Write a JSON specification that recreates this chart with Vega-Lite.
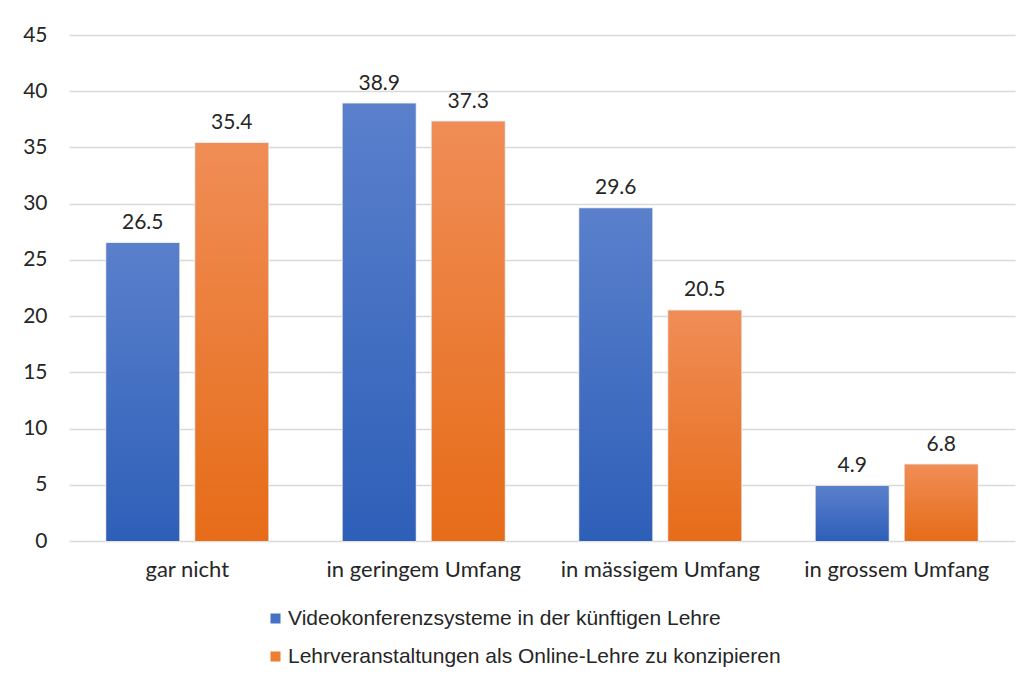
{
  "$schema": "https://vega.github.io/schema/vega-lite/v6.json",
  "autosize": {"type": "none"},
  "width": 946,
  "height": 506,
  "padding": {"left": 69, "top": 35, "right": 16, "bottom": 141},
  "background": "white",
  "config": {
    "view": {"stroke": null},
    "font": "Lato"
  },
  "data": {
    "values": [
      {"cat": "gar nicht", "series": "Videokonferenzsysteme in der künftigen Lehre", "value": 26.5},
      {"cat": "gar nicht", "series": "Lehrveranstaltungen als Online-Lehre zu konzipieren", "value": 35.4},
      {"cat": "in geringem Umfang", "series": "Videokonferenzsysteme in der künftigen Lehre", "value": 38.9},
      {"cat": "in geringem Umfang", "series": "Lehrveranstaltungen als Online-Lehre zu konzipieren", "value": 37.3},
      {"cat": "in mässigem Umfang", "series": "Videokonferenzsysteme in der künftigen Lehre", "value": 29.6},
      {"cat": "in mässigem Umfang", "series": "Lehrveranstaltungen als Online-Lehre zu konzipieren", "value": 20.5},
      {"cat": "in grossem Umfang", "series": "Videokonferenzsysteme in der künftigen Lehre", "value": 4.9},
      {"cat": "in grossem Umfang", "series": "Lehrveranstaltungen als Online-Lehre zu konzipieren", "value": 6.8}
    ]
  },
  "encoding": {
    "x": {
      "field": "cat", "type": "nominal", "sort": null,
      "scale": {"paddingInner": 0.315, "paddingOuter": 0.1575},
      "axis": {
        "title": null, "labelAngle": 0, "labelFontSize": 22, "labelColor": "#262626",
        "labelPadding": 18, "ticks": false, "domain": false, "labelFont": "Lato", "labelLimit": 400
      }
    },
    "xOffset": {
      "field": "series", "type": "nominal",
      "sort": ["Videokonferenzsysteme in der künftigen Lehre", "Lehrveranstaltungen als Online-Lehre zu konzipieren"],
      "scale": {"paddingInner": 0.18, "paddingOuter": 0}
    },
    "y": {
      "field": "value", "type": "quantitative",
      "scale": {"domain": [0, 45], "nice": false},
      "axis": {
        "title": null, "values": [0, 5, 10, 15, 20, 25, 30, 35, 40, 45],
        "labelFontSize": 21, "labelColor": "#262626", "labelPadding": 22,
        "ticks": false, "domain": false, "gridColor": "#d9d9d9", "gridWidth": 1.5,
        "labelFont": "Lato"
      }
    }
  },
  "layer": [
    {
      "mark": {"type": "bar", "stroke": "#e3e3e3", "strokeWidth": 1.5},
      "encoding": {
        "color": {
          "field": "series", "type": "nominal",
          "sort": ["Videokonferenzsysteme in der künftigen Lehre", "Lehrveranstaltungen als Online-Lehre zu konzipieren"],
          "scale": {
            "domain": ["Videokonferenzsysteme in der künftigen Lehre", "Lehrveranstaltungen als Online-Lehre zu konzipieren"],
            "range": ["#4472c4", "#ed7d31"]
          },
          "legend": {
            "title": null, "orient": "none", "legendX": 196, "legendY": 573,
            "direction": "vertical", "symbolType": "square", "symbolSize": 100,
            "symbolStrokeWidth": 0, "labelFont": "Liberation Sans", "labelFontSize": 21,
            "labelColor": "#262626", "rowPadding": 16, "labelOffset": 2, "labelLimit": 700
          }
        }
      }
    },
    {
      "transform": [{"filter": "datum.series === 'Videokonferenzsysteme in der künftigen Lehre'"}],
      "mark": {
        "type": "bar",
        "fill": {
          "gradient": "linear", "x1": 0, "y1": 0, "x2": 0, "y2": 1,
          "stops": [{"offset": 0, "color": "#5a80cc"}, {"offset": 1, "color": "#2e5fb8"}]
        }
      }
    },
    {
      "transform": [{"filter": "datum.series === 'Lehrveranstaltungen als Online-Lehre zu konzipieren'"}],
      "mark": {
        "type": "bar",
        "fill": {
          "gradient": "linear", "x1": 0, "y1": 0, "x2": 0, "y2": 1,
          "stops": [{"offset": 0, "color": "#f08d56"}, {"offset": 1, "color": "#e66c18"}]
        }
      }
    },
    {
      "mark": {"type": "text", "baseline": "bottom", "dy": -10, "fontSize": 21, "color": "#262626", "font": "Lato"},
      "encoding": {"text": {"field": "value", "type": "quantitative", "format": ".1f"}}
    }
  ]
}
